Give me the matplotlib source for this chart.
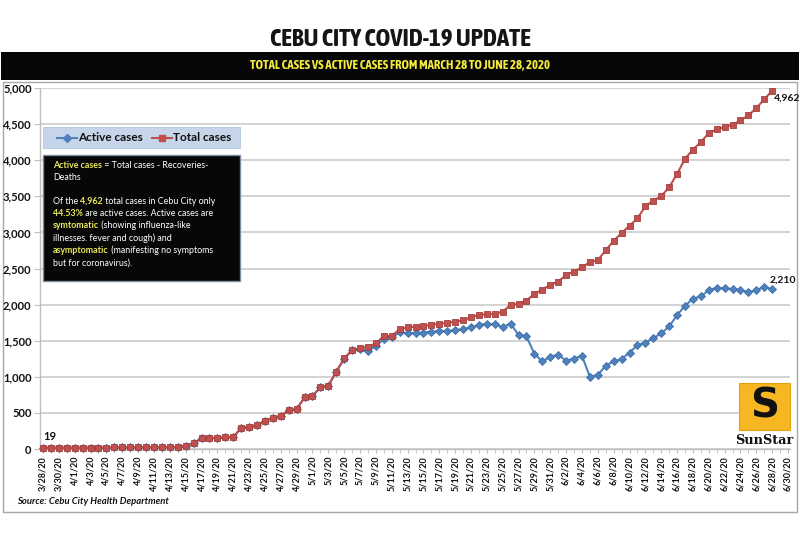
import matplotlib
matplotlib.use('Agg')
import matplotlib.pyplot as plt
import matplotlib.dates as mdates
import pandas as pd
from matplotlib.patches import Rectangle
from matplotlib.lines import Line2D
from matplotlib.text import Annotation
from matplotlib import font_manager as fm

plt.rcParams['font.family'] = ['Lato', 'DejaVu Sans']

# ---------------- data ----------------
start_date = '2020-03-28'
axis_end_date = '2020-06-30'
total_cases = [19, 19, 19, 19, 19, 20, 20, 20, 20, 21, 21, 22, 22, 23, 23, 24, 25, 28, 45, 80,
               150, 152, 155, 160, 165, 290, 310, 332, 392, 434, 457, 540, 552, 714, 736, 854, 879, 1071, 1256, 1371,
               1394, 1417, 1464, 1565, 1565, 1660, 1685, 1695, 1708, 1718, 1736, 1745, 1764, 1782, 1824, 1856, 1870, 1870, 1903, 1995,
               2009, 2056, 2148, 2208, 2273, 2319, 2412, 2458, 2514, 2590, 2615, 2752, 2884, 2991, 3093, 3194, 3361, 3440, 3500, 3625,
               3810, 4019, 4148, 4250, 4375, 4426, 4458, 4491, 4551, 4620, 4722, 4843, 4962]
active_cases = [19, 19, 19, 19, 19, 20, 20, 20, 20, 21, 21, 22, 22, 23, 23, 24, 25, 28, 45, 80,
                150, 152, 155, 160, 165, 290, 310, 332, 392, 434, 457, 540, 552, 714, 736, 854, 879, 1071, 1250, 1365,
                1380, 1362, 1420, 1530, 1545, 1615, 1603, 1605, 1612, 1625, 1628, 1636, 1645, 1660, 1684, 1718, 1733, 1727, 1688, 1736,
                1579, 1560, 1318, 1212, 1280, 1303, 1225, 1252, 1292, 1000, 1027, 1152, 1215, 1244, 1336, 1438, 1475, 1535, 1602, 1697,
                1854, 1984, 2083, 2113, 2201, 2232, 2224, 2215, 2205, 2170, 2201, 2247, 2210]
y_ticks = [0, 500, 1000, 1500, 2000, 2500, 3000, 3500, 4000, 4500, 5000]
label_first = '19'
label_total_last = '4,962'
label_active_last = '2,210'

title = 'CEBU CITY COVID-19 UPDATE'
subtitle = 'TOTAL CASES VS ACTIVE CASES FROM MARCH 28 TO JUNE 28, 2020'
source = 'Source: Cebu City Health Department'
legend_labels = ['Active cases', 'Total cases']

dates = pd.date_range(start_date, periods=len(total_cases), freq='D')
tick_dates = pd.date_range(start_date, axis_end_date, freq='2D')
tick_labels = [f'{d.month}/{d.day}/20' for d in tick_dates]
all_days = pd.date_range(start_date, axis_end_date, freq='D')

BLUE = '#4f81bd'
RED = '#c0504d'
YEL = '#e9e95c'

W, H = 800, 533
fig = plt.figure(figsize=(8, 5.33), dpi=100)
fig.patch.set_facecolor('white')


def fx(px):
    return px / W


def fy(py):
    return 1 - py / H


# pick a condensed bold face if one is installed
cond_family = None
for f in fm.fontManager.ttflist:
    n = f.name.lower()
    if ('narrow' in n or 'condensed' in n) and f.weight in ('bold', 700, 'heavy', 800):
        cond_family = f.name
        break
if cond_family is None:
    for f in fm.fontManager.ttflist:
        n = f.name.lower()
        if 'narrow' in n or 'condensed' in n:
            cond_family = f.name
            break

if cond_family is not None:
    title_kw = dict(family=[cond_family, 'DejaVu Sans'], fontsize=18)
    sub_kw = dict(family=[cond_family, 'DejaVu Sans'], fontsize=9.2)
else:
    title_kw = dict(family=['Liberation Sans', 'DejaVu Sans'], fontsize=13.5)
    sub_kw = dict(family=['Liberation Sans', 'DejaVu Sans'], fontsize=6.6)

# black band and chart frame
fig.add_artist(Rectangle((fx(1), fy(80)), fx(798), 28 / H, transform=fig.transFigure,
                         facecolor='#060606', edgecolor='none', zorder=0))
fig.add_artist(Rectangle((fx(3), fy(512)), fx(794), 430 / H, transform=fig.transFigure,
                         facecolor='none', edgecolor='#a8a8a8', lw=1.0, zorder=0))

fig.text(0.5, fy(39), title, ha='center', va='center', fontweight='bold',
         color='#151515', **title_kw)
fig.text(0.5, fy(66), subtitle, ha='center', va='center', fontweight='bold',
         color='#f2ea3c', **sub_kw)

# ---------------- axes ----------------
ax = fig.add_axes([fx(40), fy(449), fx(750), (449 - 88) / H])
x = mdates.date2num(dates)
x0 = x[0]
ax.set_xlim(x0 - 0.38, x0 + 94.25)
ax.set_ylim(0, 5000)

ax.plot(x, active_cases, color=BLUE, lw=1.5, marker='D', ms=3.6, mfc=BLUE, mec='#3d6ea8',
        mew=0.6, zorder=3, clip_on=False)
ax.plot(x, total_cases, color=RED, lw=1.5, marker='s', ms=4.6, mfc=RED, mec='#a53f3c',
        mew=0.6, zorder=4, clip_on=False)

ax.set_yticks(y_ticks)
ax.set_yticklabels([f'{v:,}' for v in y_ticks], fontsize=8, fontweight='bold', color='#111111')
ax.set_xticks(mdates.date2num(tick_dates))
ax.set_xticklabels(tick_labels, rotation=90, fontsize=6.5, fontweight='bold', color='#111111')
ax.set_xticks(mdates.date2num(all_days), minor=True)
ax.tick_params(axis='x', which='both', length=3, color='#bfbfbf', pad=2)
ax.tick_params(axis='y', length=4, color='#bfbfbf', pad=2)
ax.yaxis.grid(True, color='#d0d0d0', lw=1.3)
ax.set_axisbelow(True)
for s in ['top', 'right']:
    ax.spines[s].set_visible(False)
ax.spines['left'].set_color('#bfbfbf')
ax.spines['bottom'].set_color('#bfbfbf')
ax.spines['left'].set_linewidth(1.0)
ax.spines['bottom'].set_linewidth(1.0)
ax.patch.set_alpha(0)

ax.annotate(label_first, xy=(x[0], total_cases[0]), xytext=(0, 4), textcoords='offset points',
            ha='left', va='bottom', fontsize=8, fontweight='bold', color='#111111')
ax.annotate(label_total_last, xy=(x[-1], total_cases[-1]), xytext=(1, -5.5), textcoords='offset points',
            ha='left', va='center', fontsize=7.5, fontweight='bold', color='#111111', annotation_clip=False)
ax.annotate(label_active_last, xy=(x[-1], active_cases[-1]), xytext=(-2, 6.5), textcoords='offset points',
            ha='left', va='center', fontsize=7.5, fontweight='bold', color='#111111', annotation_clip=False)

# ---------------- legend box ----------------
fig.add_artist(Rectangle((fx(43), fy(148)), fx(197), 21 / H, transform=fig.transFigure,
                         facecolor='#c6d5ea', edgecolor='#b3c4dc', lw=0.6, zorder=5))
ly = fy(137.5)
fig.add_artist(Line2D([fx(57), fx(77)], [ly, ly], transform=fig.transFigure, color=BLUE, lw=1.5, zorder=6))
fig.add_artist(Line2D([fx(67)], [ly], transform=fig.transFigure, color=BLUE, marker='D', ms=3.6, zorder=6))
fig.text(fx(78), ly, legend_labels[0], ha='left', va='center', fontsize=8.5, fontweight='bold',
         color='#111111', zorder=6)
fig.add_artist(Line2D([fx(152), fx(172)], [ly, ly], transform=fig.transFigure, color=RED, lw=1.5, zorder=6))
fig.add_artist(Line2D([fx(162)], [ly], transform=fig.transFigure, color=RED, marker='s', ms=4.6, zorder=6))
fig.text(fx(173), ly, legend_labels[1], ha='left', va='center', fontsize=8.5, fontweight='bold',
         color='#111111', zorder=6)

# ---------------- info box ----------------
fig.add_artist(Rectangle((fx(43), fy(281)), fx(197), 126 / H, transform=fig.transFigure,
                         facecolor='#070707', edgecolor='#7c8ca4', lw=1.0, zorder=5))

info_lines = [
    (165, [('Active cases', YEL, 'bold'), (' = Total cases - Recoveries-', 'white', 'normal')]),
    (177.5, [('Deaths', 'white', 'normal')]),
    (201, [('Of the ', 'white', 'normal'), ('4,962', YEL, 'bold'),
           (' total cases in Cebu City only', 'white', 'normal')]),
    (213.5, [('44.53%', YEL, 'bold'), (' are active cases. Active cases are', 'white', 'normal')]),
    (226, [('symtomatic', YEL, 'bold'), (' (showing influenza-like', 'white', 'normal')]),
    (238, [('illnesses. fever and cough) and', 'white', 'normal')]),
    (250.5, [('asymptomatic', YEL, 'bold'), (' (manifesting no symptoms', 'white', 'normal')]),
    (263, [('but for coronavirus).', 'white', 'normal')]),
]
for ypx, segs in info_lines:
    t = fig.text(fx(53), fy(ypx), segs[0][0], color=segs[0][1], fontweight=segs[0][2],
                 fontsize=6.4, ha='left', va='center', zorder=7)
    for txt, col, wt in segs[1:]:
        a = Annotation(txt, xy=(1, 0), xycoords=t, va='bottom', ha='left', color=col,
                       fontweight=wt, fontsize=6.4, zorder=7)
        fig.add_artist(a)
        t = a

# ---------------- source ----------------
fig.text(fx(17), fy(502), source, ha='left', va='center', fontsize=6.8, fontweight='bold',
         style='italic', color='#111111')

# ---------------- logo ----------------
fig.add_artist(Rectangle((fx(739), fy(430)), fx(51), 47 / H, transform=fig.transFigure,
                         facecolor='#f6b723', edgecolor='#e3a312', lw=0.8, zorder=5))
fig.text(fx(764.5), fy(407), 'S', ha='center', va='center', fontsize=29, fontweight='heavy',
         family='DejaVu Sans', color='#111111', zorder=6)
fig.text(fx(764), fy(441), 'SunStar', ha='center', va='center', fontsize=9.3, fontweight='bold',
         family='DejaVu Serif', color='#111111', zorder=6)

fig.savefig('out.png', dpi=100, facecolor='white')
